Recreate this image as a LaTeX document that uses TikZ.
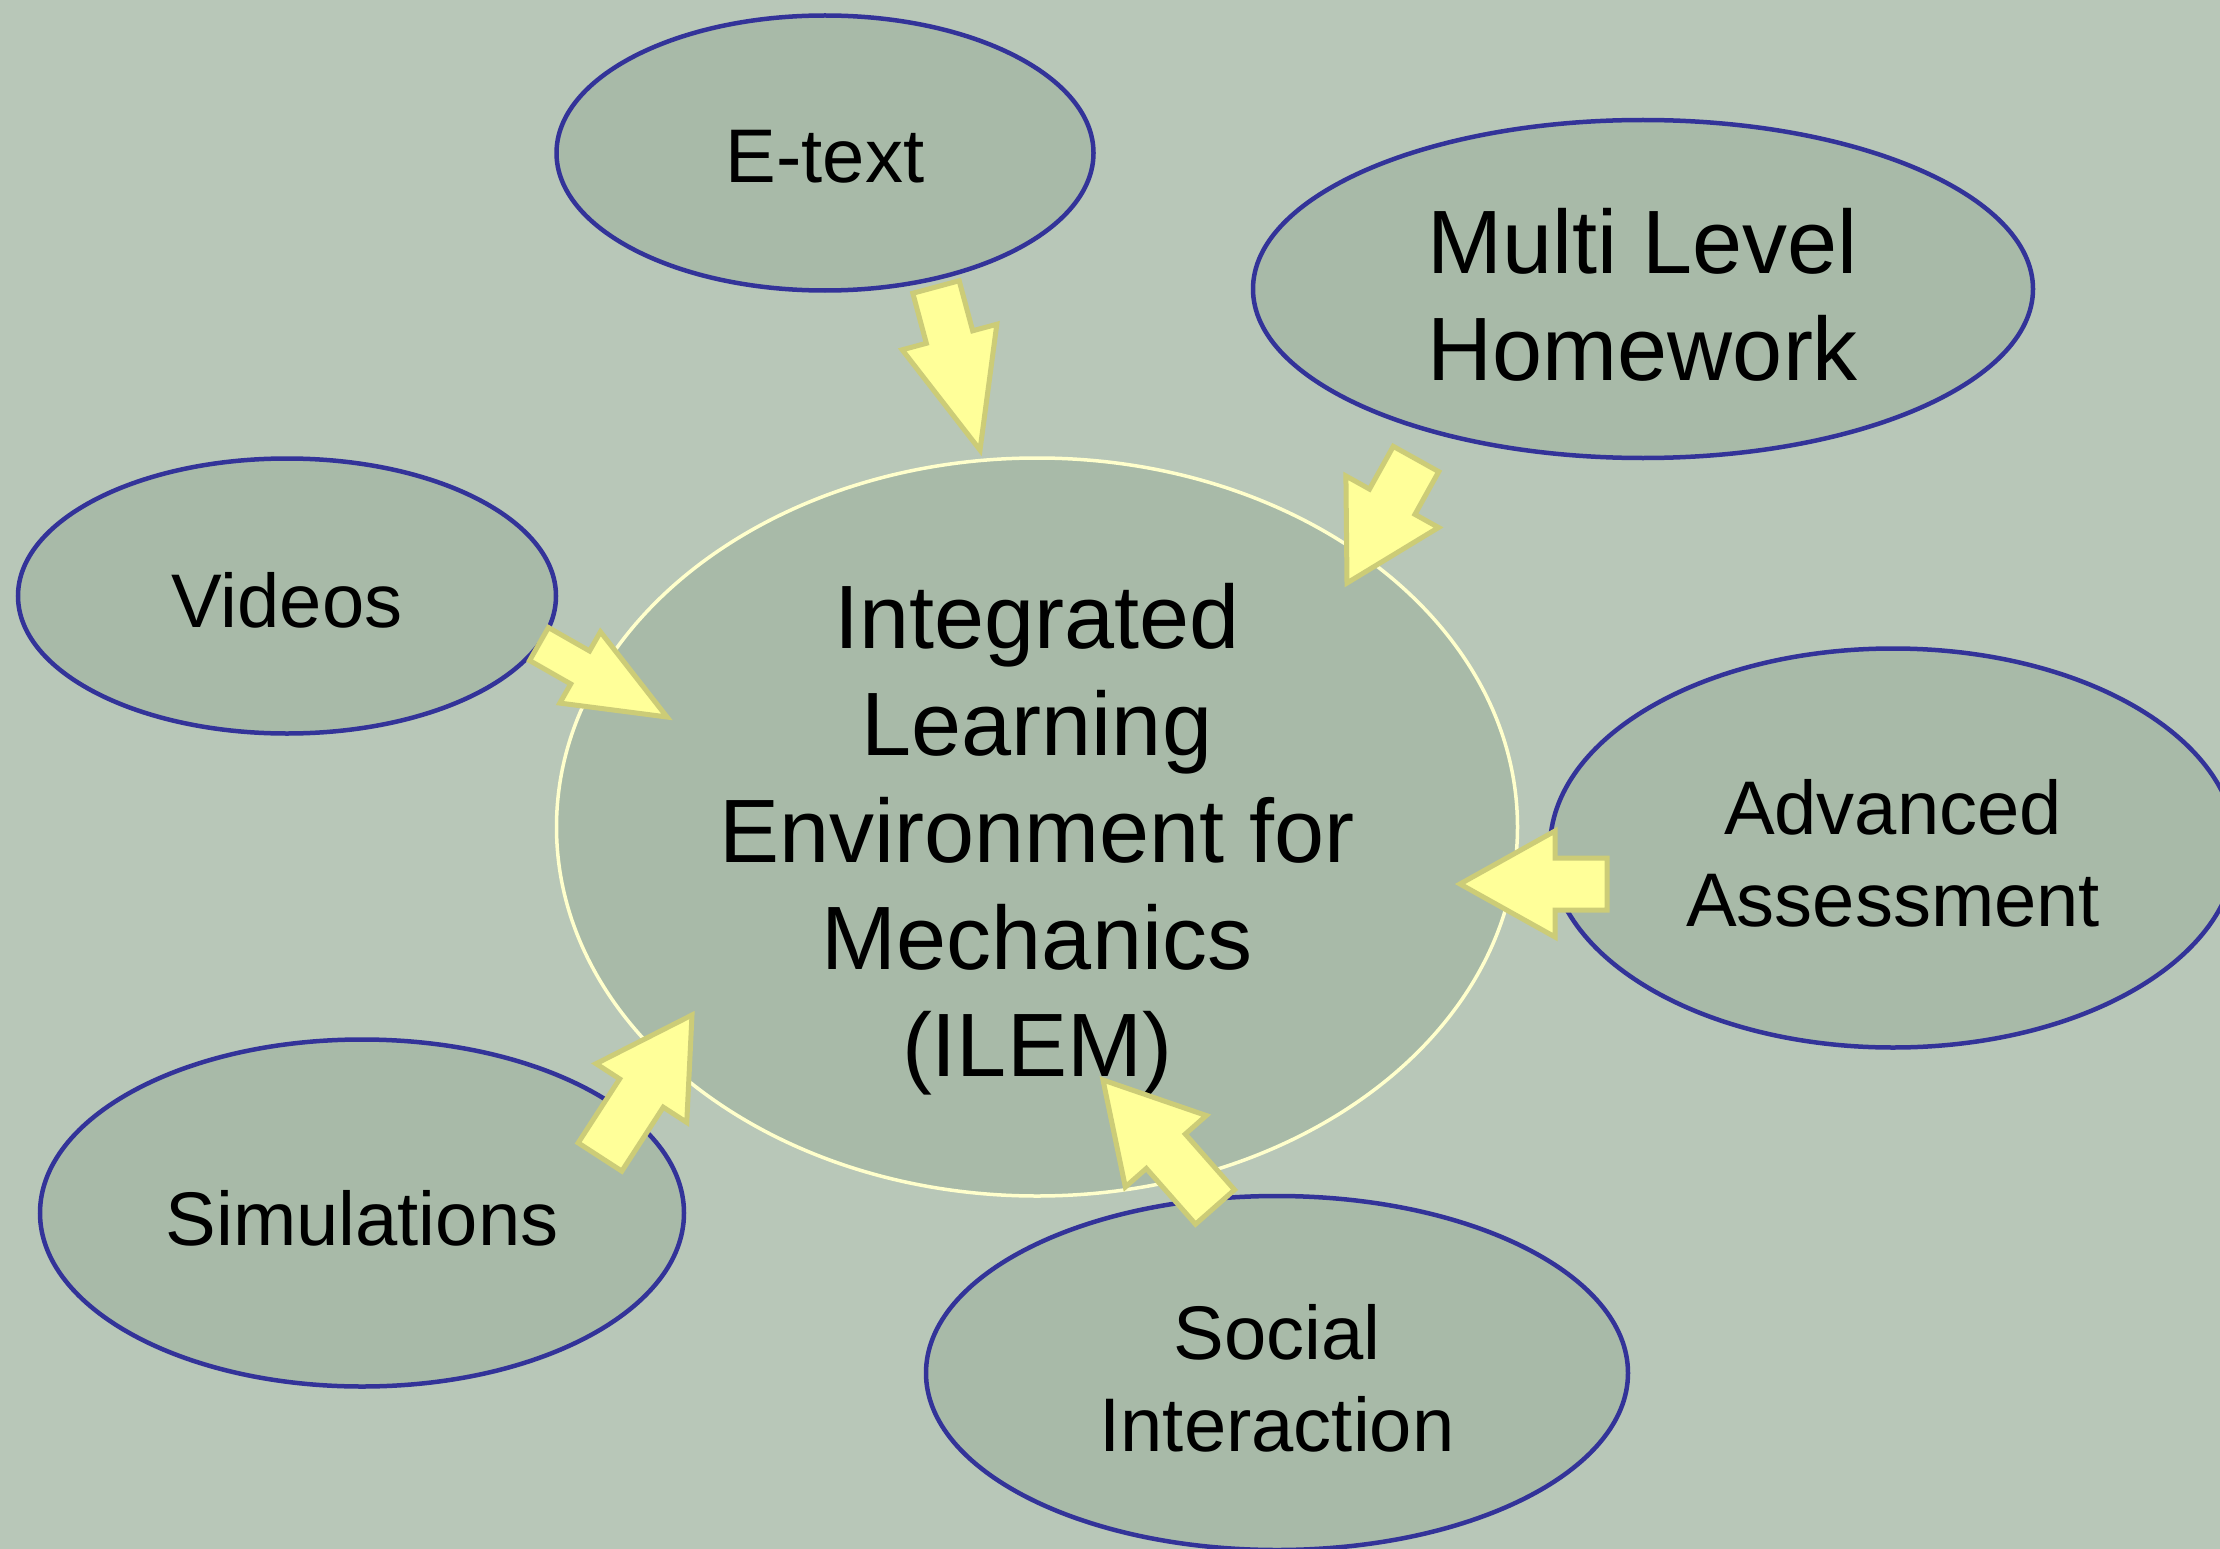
\documentclass[tikz,border=0pt]{standalone}
\usepackage{fontspec}
\setmainfont{Liberation Sans}
\usetikzlibrary{shapes.geometric, calc}

\definecolor{slide}{HTML}{B8C7B8}
\definecolor{bubble}{HTML}{A8BAA8}
\definecolor{rim}{HTML}{333399}
\definecolor{glow}{HTML}{FFFFCC}
\definecolor{pale}{HTML}{FFFF99}
\definecolor{olive}{HTML}{CCCC77}

\tikzset{
  spoke/.style={ellipse, draw=rim, fill=bubble, line width=4.5pt, inner sep=0pt},
  hub/.style={ellipse, draw=glow, fill=bubble, line width=3.5pt, inner sep=0pt},
  word/.style={align=center, font=\fontsize{76}{92}\selectfont},
  bigword/.style={align=center, font=\fontsize{90}{107}\selectfont},
  feeder/.style={fill=pale, draw=olive, line width=5pt, line join=miter}
}

% block arrow: tail, tip, shaft half width, head half width, head length
\newcommand{\feed}[5]{%
  \coordinate (base) at ($(#2)!#5pt!(#1)$);
  \draw[feeder] ($(#1)!#3pt!90:(#2)$) -- ($(base)!#3pt!90:(#2)$)
    -- ($(base)!#4pt!90:(#2)$) -- (#2) -- ($(base)!#4pt!-90:(#2)$)
    -- ($(base)!#3pt!-90:(#2)$) -- ($(#1)!#3pt!-90:(#2)$) -- cycle;
}

\begin{document}
\begin{tikzpicture}[x=1pt, y=-1pt]
\useasboundingbox (0,0) rectangle (2220,1549);
\fill[slide] (0,0) rectangle (2220,1549);
\clip (0,0) rectangle (2220,1549);

% the bubbles
\node[hub, minimum width=961pt, minimum height=738pt] (ilem) at (1037,827) {};
\node[spoke, minimum width=537pt, minimum height=275pt] (etext) at (825,153) {};
\node[spoke, minimum width=780pt, minimum height=338pt] (homework) at (1643,289) {};
\node[spoke, minimum width=538pt, minimum height=275pt] (videos) at (287,596) {};
\node[spoke, minimum width=686pt, minimum height=399pt] (assess) at (1893,848) {};
\node[spoke, minimum width=644pt, minimum height=347pt] (sims) at (362,1213) {};
\node[spoke, minimum width=702pt, minimum height=354pt] (social) at (1277,1373) {};

% the texts
\node[bigword] (ilem-t) at ($(ilem)+(0,12)$) {Integrated\\Learning\\Environment for\\Mechanics\\(ILEM)};
\node[bigword] (homework-t) at ($(homework)+(0,6)$) {Multi Level\\Homework};
\node[word] (etext-t) at ($(etext)+(0,4)$) {E-text};
\node[word] (videos-t) at ($(videos)+(0,4)$) {Videos};
\node[word] (assess-t) at ($(assess)+(0,5)$) {Advanced\\Assessment};
\node[word] (sims-t) at ($(sims)+(0,5)$) {Simulations};
\node[word] (social-t) at ($(social)+(0,5)$) {Social\\Interaction};

% arrow ends
\coordinate (etext-out) at (936,287);
\coordinate (etext-in) at (980,450);
\coordinate (homework-out) at (1416,459);
\coordinate (homework-in) at (1347,583);
\coordinate (assess-out) at (1607,884);
\coordinate (assess-in) at (1460,884);
\coordinate (social-out) at (1215,1207);
\coordinate (social-in) at (1103,1080);
\coordinate (sims-out) at (600,1157);
\coordinate (sims-in) at (692,1015);
\coordinate (videos-out) at (539,644);
\coordinate (videos-in) at (667,717);

\feed{etext-out}{etext-in}{24}{49}{117}
\feed{homework-out}{homework-in}{26}{53}{93}
\feed{assess-out}{assess-in}{26}{53}{95}
\feed{social-out}{social-in}{26}{54}{95}
\feed{sims-out}{sims-in}{26}{54}{93}
\feed{videos-out}{videos-in}{19}{41}{100}
\end{tikzpicture}
\end{document}
